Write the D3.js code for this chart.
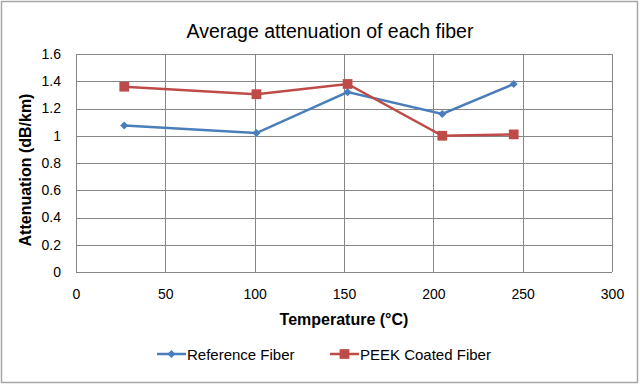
<!DOCTYPE html>
<meta charset="utf-8">
<script src="https://d3js.org/d3.v7.min.js"></script>
<style>
  body { margin: 0; background: #fff; }
  text { font-family: "Liberation Sans", Arial, sans-serif; fill: #000; }
</style>
<div id="chart"></div>
<script>
  // data
  const temperature = [27, 101, 152, 205, 245];
  const referenceFiber = [1.075, 1.02, 1.32, 1.16, 1.38];
  const peekFiber = [1.36, 1.305, 1.38, 1.0, 1.01];
  const xTicks = [0, 50, 100, 150, 200, 250, 300];
  const yTicks = [0, 0.2, 0.4, 0.6, 0.8, 1, 1.2, 1.4, 1.6];

  const W = 640, H = 384;
  const margin = {top: 54, right: 28, bottom: 112, left: 76};
  const width = W - margin.left - margin.right,
        height = H - margin.top - margin.bottom;

  const svg = d3.select("#chart").append("svg")
    .attr("width", W).attr("height", H);

  // outer frame
  svg.append("rect")
    .attr("x", 1.5).attr("y", 1.5)
    .attr("width", W - 4).attr("height", H - 3)
    .attr("fill", "#fff").attr("stroke", "#a6a6a6").attr("stroke-width", 1.5);

  const g = svg.append("g")
    .attr("transform", `translate(${margin.left},${margin.top})`);

  const x = d3.scaleLinear().domain([0, 300]).range([0, width]);
  const y = d3.scaleLinear().domain([0, 1.6]).range([height, 0]);

  // gridlines
  g.append("g").selectAll("line")
    .data(yTicks)
    .join("line")
      .attr("x1", 0).attr("x2", width)
      .attr("y1", d => Math.round(y(d)) + 0.5).attr("y2", d => Math.round(y(d)) + 0.5)
      .attr("stroke", "#868686");
  g.append("g").selectAll("line")
    .data(xTicks)
    .join("line")
      .attr("y1", 0).attr("y2", height)
      .attr("x1", d => Math.round(x(d)) + 0.5).attr("x2", d => Math.round(x(d)) + 0.5)
      .attr("stroke", "#868686");

  // axes
  const xAxis = g.append("g")
    .attr("transform", `translate(0,${height})`)
    .call(d3.axisBottom(x).tickValues(xTicks).tickSize(0).tickPadding(17));
  const yAxis = g.append("g")
    .call(d3.axisLeft(y).tickValues(yTicks).tickSize(0).tickPadding(15)
      .tickFormat(d => d3.format("")(+d.toFixed(1))));
  [xAxis, yAxis].forEach(a => {
    a.select(".domain").remove();
    a.selectAll("text").style("font-size", "14px").style("font-family", "Liberation Sans, Arial, sans-serif")
      .attr("fill", "#222");
  });

  const series = [
    {name: "Reference Fiber", values: referenceFiber, color: "#4a7ebb", marker: "diamond"},
    {name: "PEEK Coated Fiber", values: peekFiber, color: "#be4b48", marker: "square"}
  ];

  const line = d3.line()
    .x((d, i) => x(temperature[i]))
    .y(d => y(d));

  const symbolFor = s => s.marker === "diamond"
    ? d3.symbol().type(d3.symbolDiamond2).size(42)
    : d3.symbol().type(d3.symbolSquare).size(95);

  series.forEach(s => {
    g.append("path")
      .datum(s.values)
      .attr("fill", "none")
      .attr("stroke", s.color)
      .attr("stroke-width", 2.5)
      .attr("d", line);
    g.append("g").selectAll("path")
      .data(s.values)
      .join("path")
        .attr("transform", (d, i) => `translate(${x(temperature[i])},${y(d)})`)
        .attr("d", symbolFor(s)())
        .attr("fill", s.color);
  });

  // title
  svg.append("text")
    .attr("x", 330).attr("y", 38)
    .attr("text-anchor", "middle")
    .style("font-size", "19.5px")
    .text("Average attenuation of each fiber");

  // axis titles
  svg.append("text")
    .attr("x", 344).attr("y", 325)
    .attr("text-anchor", "middle")
    .style("font-size", "16px").style("font-weight", "bold")
    .text("Temperature (°C)");
  svg.append("text")
    .attr("transform", "translate(31,170) rotate(-90)")
    .attr("text-anchor", "middle")
    .style("font-size", "16px").style("font-weight", "bold")
    .text("Attenuation (dB/km)");

  // legend
  const legendX = [157, 330];
  series.forEach((s, i) => {
    const lg = svg.append("g").attr("transform", `translate(${legendX[i]},354)`);
    lg.append("line")
      .attr("x1", 0).attr("x2", 29)
      .attr("stroke", s.color).attr("stroke-width", 2.5);
    lg.append("path")
      .attr("transform", "translate(14.5,0)")
      .attr("d", symbolFor(s)())
      .attr("fill", s.color);
    lg.append("text")
      .attr("x", 30).attr("y", 5.5)
      .style("font-size", "15px")
      .text(s.name);
  });
</script>
